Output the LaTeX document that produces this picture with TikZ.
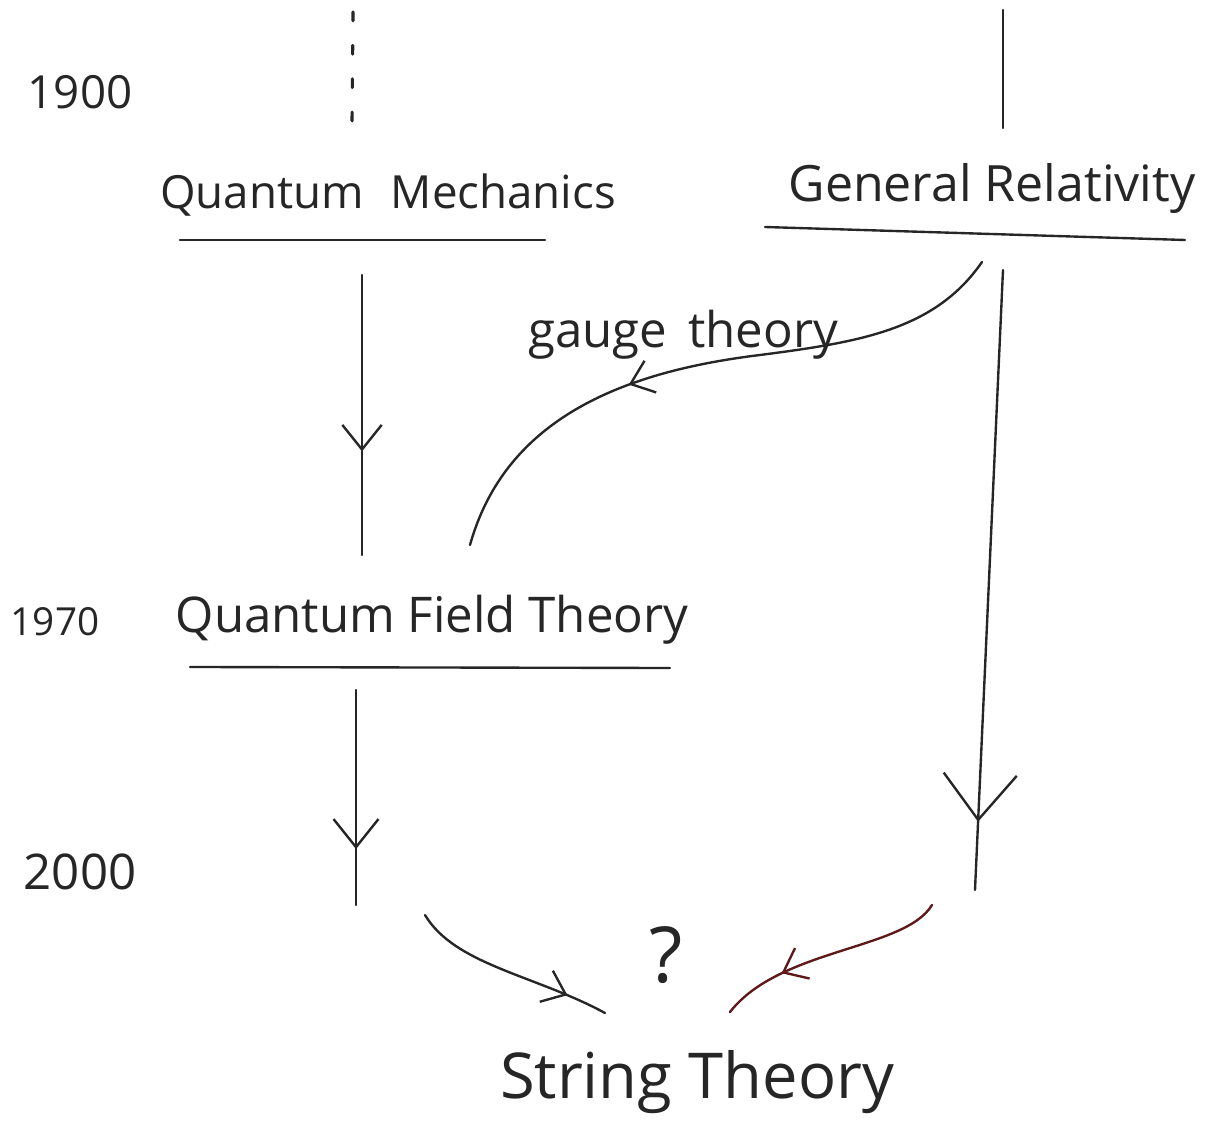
\documentclass[tikz,border=0pt]{standalone}
\usepackage{fontspec}
\setmainfont{Open Sans}
\usetikzlibrary{arrows.meta,decorations.markings}
\newcommand\fsz[1]{\fontsize{#1}{#1}\selectfont}
\tikzset{
  ink/.style={draw=black!85, line width=1.35pt, line cap=round},
  lbl/.style={inner sep=0pt, text=black!85},
  midarrow/.style 2 args={postaction={decorate}, decoration={markings,
     mark=at position #1 with {\arrow{Straight Barb[length=#2, width=1.6*#2, line width=1.35pt]}}}},
}
\begin{document}
\begin{tikzpicture}[x=0.02cm, y=-0.02cm]
\useasboundingbox[fill=white] (0,0) rectangle (1218,1145);

% year labels
\node[lbl, font=\fsz{26}] (y1900) at (80,92) {1900};
\node[lbl, font=\fsz{22}] (y1970) at (55,622) {1970};
\node[lbl, font=\fsz{28}] (y2000) at (80,872) {2000};

% main labels
\node[lbl, font=\fsz{26}] (qm) at (388,195) {Quantum\,\, Mechanics};
\node[lbl, font=\fsz{28.5}] (gr) at (992,188) {General Relativity};
\node[lbl, font=\fsz{28}] (qft) at (432,620) {Quantum Field Theory};
\node[lbl, font=\fsz{28}] (gauge) at (683,335) {gauge\, theory};
\node[lbl, font=\fsz{44}] (q) at (666,955) {?};
\node[lbl, font=\fsz{36}] (st) at (697,1082) {String Theory};

% underlines
\coordinate (qmu1) at (180,240); \coordinate (qmu2) at (545,240);
\coordinate (gru1) at (765,227); \coordinate (gru2) at (1185,240);
\coordinate (qftu1) at (190,667); \coordinate (qftu2) at (670,668);
\draw[ink] (qmu1) -- (qmu2);
\draw[ink] (gru1) -- (gru2);
\draw[ink] (qftu1) -- (qftu2);

% pre-1900 lines
\coordinate (d1) at (353,12); \coordinate (d2) at (352,125);
\draw[ink, line width=1.8pt, dash pattern=on 5pt off 14pt] (d1) -- (d2);
\coordinate (r1) at (1003,10); \coordinate (r2) at (1003,128);
\draw[ink] (r1) -- (r2);

% QM -> QFT
\coordinate (a1) at (362,275); \coordinate (a2) at (362,555);
\draw[ink, midarrow={0.63}{14pt}] (a1) -- (a2);

% GR -> QFT (gauge theory)
\coordinate (g0) at (982,262); \coordinate (gm) at (760,355); \coordinate (g1) at (470,545);
\draw[ink, midarrow={0.62}{12pt}] (g0) .. controls (935,330) and (860,342) .. (gm)
   .. controls (620,372) and (505,420) .. (g1);

% GR -> down
\coordinate (b1) at (1003,270); \coordinate (b2) at (975,890);
\draw[ink, midarrow={0.89}{26pt}] (b1) -- (b2);

% QFT -> down
\coordinate (c1) at (356,690); \coordinate (c2) at (356,905);
\draw[ink, midarrow={0.74}{16pt}] (c1) -- (c2);

% into String Theory
\coordinate (s1) at (425,915); \coordinate (s2) at (605,1013);
\draw[ink, midarrow={0.8}{12pt}] (s1) .. controls (455,965) and (535,975) .. (s2);
\coordinate (t1) at (932,905); \coordinate (t2) at (730,1012);
\draw[ink, draw=black!70!red!90, midarrow={0.72}{12pt}] (t1) .. controls (905,950) and (780,948) .. (t2);
\end{tikzpicture}
\end{document}
